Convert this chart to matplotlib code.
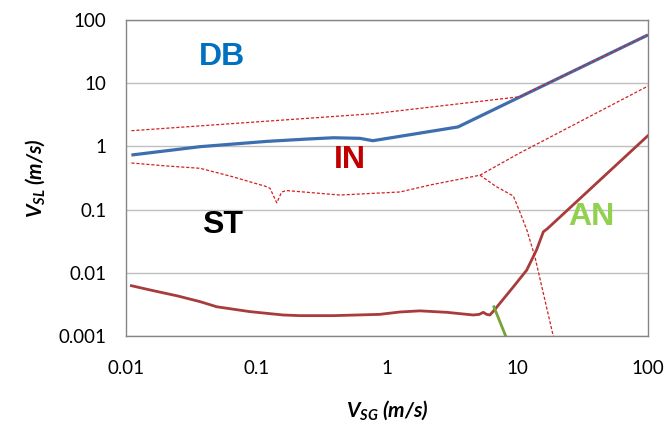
import matplotlib
matplotlib.use("Agg")
import matplotlib.pyplot as plt

# Flow pattern map: superficial gas vs. liquid velocity (log-log)

# DB / IN transition (solid blue)
db_vsg = [0.011, 0.037, 0.12, 0.25, 0.39, 0.62, 0.78, 3.5, 100]
db_vsl = [0.73, 0.99, 1.2, 1.31, 1.37, 1.34, 1.23, 2.03, 58]

# upper dashed boundary, merges with the DB line at high gas rates
up_vsg = [0.011, 0.8, 10.4, 100]
up_vsl = [1.77, 3.3, 6.1, 58]

# lower dashed boundary (IN / ST)
lo_vsg = [0.011, 0.0205, 0.037, 0.066, 0.12, 0.127, 0.143, 0.156, 0.17,
          0.436, 1.26, 2.14, 5.16, 10.1, 100]
lo_vsl = [0.546, 0.49, 0.45, 0.33, 0.23, 0.217, 0.128, 0.19, 0.2,
          0.17, 0.19, 0.245, 0.35, 0.76, 9.0]

# descending dashed branch
br_vsg = [5.16, 6.9, 9.3, 10.4, 11.8, 13.6, 15.8, 18.6, 19.2]
br_vsl = [0.35, 0.23, 0.164, 0.093, 0.0475, 0.018, 0.0047, 0.0011, 0.0009]

# ST / AN transition (solid red)
an_vsg = [0.011, 0.0153, 0.0249, 0.0369, 0.0496, 0.089, 0.16, 0.215, 0.39,
          0.88, 1.26, 1.79, 2.87, 4.58, 5.1, 5.47, 5.8, 6.15, 6.72, 9.3,
          11.76, 14.0, 15.8, 16.8, 100]
an_vsl = [0.00625, 0.00535, 0.0043, 0.0035, 0.0029, 0.00243, 0.00215, 0.0021,
          0.0021, 0.0022, 0.0024, 0.0025, 0.00237, 0.00215, 0.0022, 0.00237,
          0.0022, 0.00215, 0.00264, 0.006, 0.011, 0.023, 0.0447, 0.049, 1.48]

# short green segment
gr_vsg = [6.6, 8.2]
gr_vsl = [0.0029, 0.00095]

regions = ["DB", "IN", "ST", "AN"]
region_x = [0.0545, 0.52, 0.0553, 36.6]
region_y = [26, 0.61, 0.057, 0.076]
region_colors = ["#0070C0", "#C00000", "#000000", "#92D050"]

xticks = [0.01, 0.1, 1, 10, 100]
xtick_labels = ["0.01", "0.1", "1", "10", "100"]
yticks = [0.001, 0.01, 0.1, 1, 10, 100]
ytick_labels = ["0.001", "0.01", "0.1", "1", "10", "100"]

plt.rcParams["mathtext.fontset"] = "custom"
plt.rcParams["mathtext.it"] = "Lato:italic:bold"
plt.rcParams["mathtext.rm"] = "Lato:italic:bold"

fig = plt.figure(figsize=(6.68, 4.25), dpi=100)
ax = fig.add_axes([0.1886, 0.2094, 0.7814, 0.7436])
ax.set_xscale("log")
ax.set_yscale("log")
ax.set_xlim(0.01, 100)
ax.set_ylim(0.001, 100)

ax.yaxis.grid(True, color="#BFBFBF", lw=1.0)
ax.set_axisbelow(True)
for s in ax.spines.values():
    s.set_color("#868686")
    s.set_linewidth(1.0)

dash = dict(color="#D42020", lw=0.9, dashes=(2.5, 1.5))
ax.plot(db_vsg, db_vsl, color="#3D6EAF", lw=2.3, solid_capstyle="butt")
ax.plot(an_vsg, an_vsl, color="#A83B3B", lw=2.0)
ax.plot(gr_vsg, gr_vsl, color="#77A33A", lw=2.0)
ax.plot(up_vsg, up_vsl, **dash)
ax.plot(lo_vsg, lo_vsl, **dash)
ax.plot(br_vsg, br_vsl, **dash)

for name, x, y, c in zip(regions, region_x, region_y, region_colors):
    ax.text(x, y, name, color=c, fontsize=23, fontweight="bold",
            family="Liberation Sans", ha="center", va="center")

ax.set_xticks(xticks)
ax.set_xticklabels(xtick_labels)
ax.set_yticks(yticks)
ax.set_yticklabels(ytick_labels)
ax.minorticks_off()
ax.tick_params(axis="x", length=0, pad=17, labelsize=13.5)
ax.tick_params(axis="y", length=0, pad=14, labelsize=13.5)
for lab in ax.get_xticklabels() + ax.get_yticklabels():
    lab.set_family("Lato")

ax.set_xlabel(r"$V_{SG}$ (m/s)", fontsize=15, family="Lato",
              fontweight="bold", style="italic", labelpad=16)
ax.set_ylabel(r"$V_{SL}$ (m/s)", fontsize=15, family="Lato",
              fontweight="bold", style="italic", labelpad=8)

fig.savefig("out.png", dpi=100)
